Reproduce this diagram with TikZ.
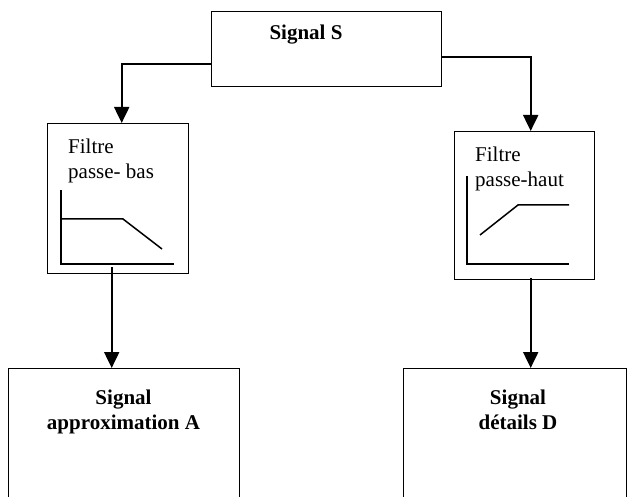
\documentclass[tikz,border=0pt]{standalone}
\usepackage{fontspec}
\setmainfont{Liberation Serif}
\usetikzlibrary{positioning,arrows.meta}

\begin{document}
\begin{tikzpicture}[x=1pt,y=1pt,yscale=-1,
  box/.style={draw,line width=1.4pt,inner sep=0pt,anchor=north west},
  conn/.style={line width=2pt,-{Triangle[width=15pt,length=16pt]}},
  curve/.style={line width=1.5pt},
  lbl/.style={font=\fontsize{21}{25}\selectfont,inner sep=0pt,align=left,anchor=north west},
  title/.style={font=\fontsize{21}{25}\selectfont\bfseries,inner sep=0pt,align=center}]
\useasboundingbox (0,0) rectangle (627,497);
\clip (0,0) rectangle (627,497);

%Flowchart: Process [signal S]
\node[box,minimum width=230pt,minimum height=75pt] (sig) at (211,11) {};
\node[title] (sigtxt) at (306,35) {Signal S};

%Flowchart: Process [filtre passe-bas]
\node[box,minimum width=141pt,minimum height=150pt] (lpf) at (47,123) {};
\node[lbl] (lpftxt) at (68,139) {Filtre\\passe- bas};
\draw[curve] (61,190) -- (61,264) -- (174,264);
\draw[curve] (61,219) -- (123,219) -- (162,249);

%Flowchart: Process [filtre passe-haut]
\node[box,minimum width=140pt,minimum height=148pt] (hpf) at (454,131) {};
\node[lbl] (hpftxt) at (475,147) {Filtre\\passe-haut};
\draw[curve] (467,176) -- (467,264) -- (569,264);
\draw[curve] (480,235) -- (518,205) -- (569,205);

%Flowchart: Process [sorties]
\node[box,minimum width=231pt,minimum height=140pt] (outA) at (8,368) {};
\node[title,anchor=north] (outAtxt) at (123.5,390) {Signal\\approximation A};
\node[box,minimum width=223pt,minimum height=140pt] (outD) at (403,368) {};
\node[title,anchor=north] (outDtxt) at (518,390) {Signal\\détails D};

% connectors
\draw[conn] ([yshift=14.5pt]sig.west) -| ([xshift=3.5pt]lpf.north);
\draw[conn] ([yshift=7.5pt]sig.east) -| ([xshift=6pt]hpf.north);
\draw[conn] ([xshift=-6.5pt,yshift=-7pt]lpf.south) -- ([xshift=-6.5pt]lpf.south |- outA.north);
\draw[conn] ([xshift=6pt,yshift=-2pt]hpf.south) -- ([xshift=6pt]hpf.south |- outD.north);
\end{tikzpicture}
\end{document}
